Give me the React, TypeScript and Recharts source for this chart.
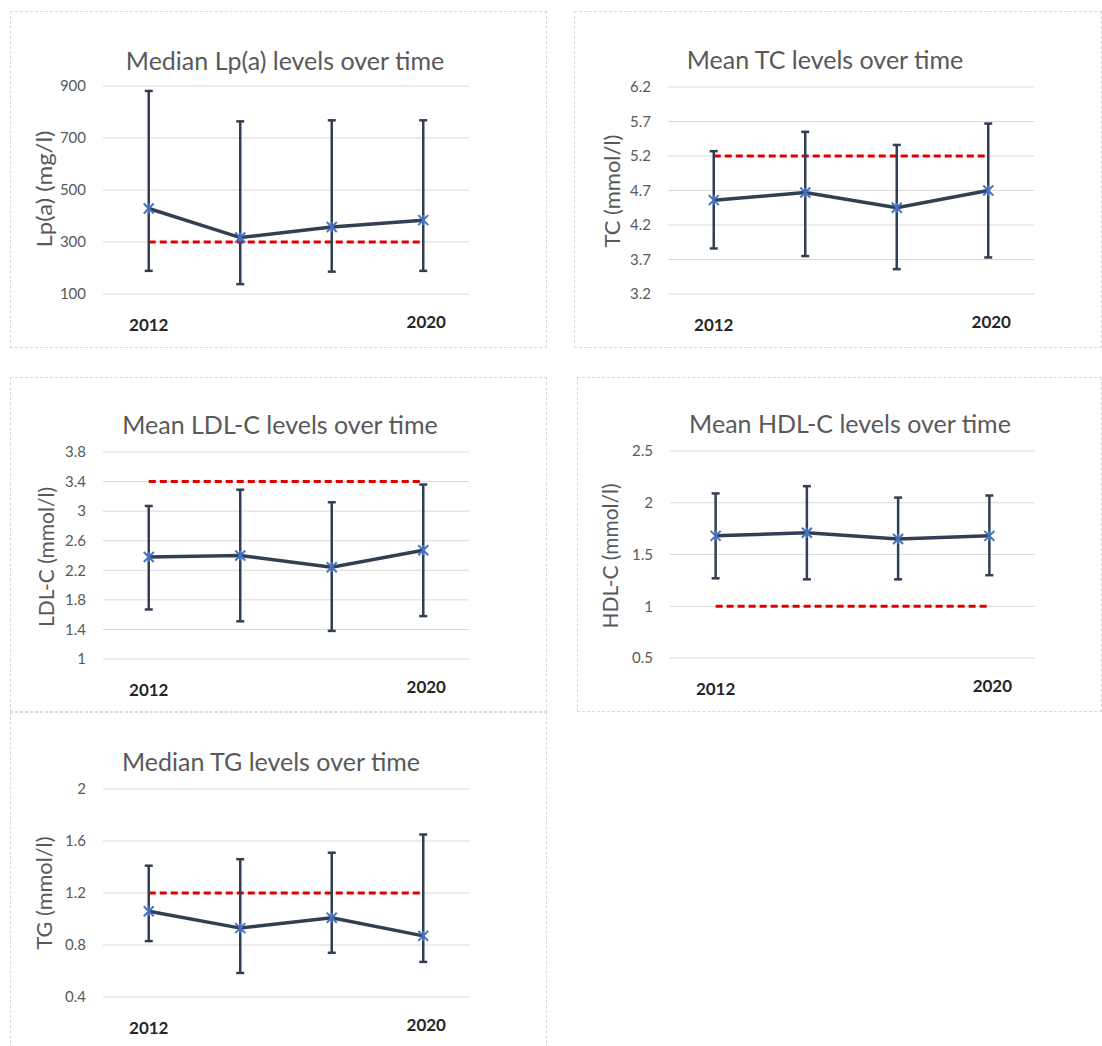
import React from "react";
import { LineChart, Line, XAxis, YAxis, CartesianGrid, ErrorBar } from "recharts";

// four time points, only first and last are labelled on the axis
const periods = ["p1", "p2", "p3", "p4"];
const xTickLabels = ["2012", "", "", "2020"];

const lpaValues = [429, 317, 358, 384];
const lpaLow = [189, 138, 186, 189];
const lpaHigh = [881, 764, 768, 768];
const lpaThreshold = 300;
const lpaTicks = [100, 300, 500, 700, 900];

const tcValues = [4.56, 4.67, 4.45, 4.7];
const tcLow = [3.86, 3.75, 3.56, 3.73];
const tcHigh = [5.27, 5.55, 5.36, 5.67];
const tcThreshold = 5.2;
const tcTicks = [3.2, 3.7, 4.2, 4.7, 5.2, 5.7, 6.2];

const ldlValues = [2.38, 2.4, 2.24, 2.47];
const ldlLow = [1.67, 1.51, 1.38, 1.58];
const ldlHigh = [3.07, 3.29, 3.12, 3.36];
const ldlThreshold = 3.4;
const ldlTicks = [1, 1.4, 1.8, 2.2, 2.6, 3, 3.4, 3.8];

const hdlValues = [1.68, 1.71, 1.65, 1.68];
const hdlLow = [1.27, 1.26, 1.26, 1.3];
const hdlHigh = [2.09, 2.16, 2.05, 2.07];
const hdlThreshold = 1;
const hdlTicks = [0.5, 1, 1.5, 2, 2.5];

const tgValues = [1.06, 0.93, 1.01, 0.87];
const tgLow = [0.83, 0.585, 0.74, 0.67];
const tgHigh = [1.41, 1.46, 1.51, 1.65];
const tgThreshold = 1.2;
const tgTicks = [0.4, 0.8, 1.2, 1.6, 2];

const FONT = "Lato, 'Open Sans', 'DejaVu Sans', sans-serif";
const LINE_COLOR = "#323F52";
const X_AXIS_H = 44;

const StarDot = (props: any) => {
  const { cx, cy } = props;
  if (cx == null || cy == null) return null;
  const r = 5;
  return (
    <g stroke="#4472C4" strokeWidth={2}>
      <line x1={cx - r} y1={cy - r} x2={cx + r} y2={cy + r} />
      <line x1={cx - r} y1={cy + r} x2={cx + r} y2={cy - r} />
      <line x1={cx} y1={cy - r} x2={cx} y2={cy + r} />
    </g>
  );
};

const YearTick = (props: any) => {
  const { x, y, index } = props;
  const label = xTickLabels[index];
  if (!label) return null;
  const last = index === xTickLabels.length - 1;
  return (
    <text
      x={x + (last ? 3 : 0)}
      y={y}
      dy={last ? 34 : 37}
      textAnchor="middle"
      fontSize={17}
      fontWeight="bold"
      fill="#262626"
    >
      {label}
    </text>
  );
};

type Box = { left: number; top: number; width: number; height: number };

function Panel({
  box,
  plot,
  labelX,
  labelY,
  labelLen,
  title,
  titleX,
  titleY,
  yLabel,
  values,
  low,
  high,
  threshold,
  ticks,
}: {
  box: Box;
  plot: Box;
  labelX: number;
  labelY: number;
  labelLen: number;
  title: string;
  titleX: number;
  titleY: number;
  yLabel: string;
  values: number[];
  low: number[];
  high: number[];
  threshold: number;
  ticks: number[];
}) {
  const data = periods.map((p, i) => ({
    period: p,
    value: values[i],
    err: [values[i] - low[i], high[i] - values[i]],
    ref: threshold,
  }));
  const ox = box.left + 1;
  const oy = box.top + 1;
  const w = box.width - 2;
  const h = box.height - 2;
  const band = plot.width / periods.length;
  const margin = {
    left: labelX - ox,
    top: plot.top - oy,
    right: w - (plot.left - ox) - plot.width,
    bottom: h - (plot.top - oy) - plot.height - X_AXIS_H,
  };

  return (
    <div
      style={{
        position: "absolute",
        left: box.left,
        top: box.top,
        width: box.width,
        height: box.height,
        boxSizing: "border-box",
        border: "1px dashed #D9D9D9",
      }}
    >
      <LineChart width={w} height={h} data={data} margin={margin}>
        <CartesianGrid vertical={false} stroke="#D9D9D9" strokeWidth={1} />
        <XAxis
          dataKey="period"
          type="category"
          scale="point"
          padding={{ left: band / 2, right: band / 2 }}
          axisLine={false}
          tickLine={false}
          tickSize={0}
          tickMargin={0}
          height={X_AXIS_H}
          interval={0}
          tick={<YearTick />}
        />
        <YAxis
          type="number"
          domain={[ticks[0], ticks[ticks.length - 1]]}
          ticks={ticks}
          interval={0}
          width={plot.left - labelX}
          axisLine={false}
          tickLine={false}
          tickSize={0}
          tickMargin={17}
          tick={{ fontSize: 15, fill: "#595959" }}
        />
        <Line
          dataKey="ref"
          stroke="#E00000"
          strokeWidth={3}
          strokeDasharray="7 4"
          dot={false}
          isAnimationActive={false}
        />
        <Line
          dataKey="value"
          stroke={LINE_COLOR}
          strokeWidth={3.5}
          dot={<StarDot />}
          isAnimationActive={false}
        >
          <ErrorBar
            dataKey="err"
            direction="y"
            width={4}
            stroke={LINE_COLOR}
            strokeWidth={2.5}
            isAnimationActive={false}
          />
        </Line>
      </LineChart>
      <svg
        width={w}
        height={h}
        style={{ position: "absolute", left: 0, top: 0, pointerEvents: "none" }}
      >
        <text
          x={titleX - ox}
          y={titleY - oy}
          textAnchor="middle"
          fontSize={25}
          fill="#595959"
        >
          {title}
        </text>
        <text
          transform={`translate(${labelX - ox}, ${labelY - oy}) rotate(-90)`}
          textAnchor="middle"
          dominantBaseline="central"
          fontSize={21}
          fill="#595959"
          textLength={labelLen}
          lengthAdjust="spacingAndGlyphs"
        >
          {yLabel}
        </text>
      </svg>
    </div>
  );
}

export default function App() {
  return (
    <div
      style={{
        position: "absolute",
        left: 0,
        top: 0,
        width: 1102,
        height: 1046,
        background: "#fff",
        fontFamily: FONT,
        overflow: "hidden",
      }}
    >
      <Panel
        box={{ left: 10, top: 11, width: 537, height: 337 }}
        plot={{ left: 103, top: 86, width: 366, height: 208 }}
        labelX={43}
        labelY={189}
        labelLen={117}
        title="Median Lp(a) levels over time"
        titleX={285}
        titleY={70}
        yLabel="Lp(a) (mg/l)"
        values={lpaValues}
        low={lpaLow}
        high={lpaHigh}
        threshold={lpaThreshold}
        ticks={lpaTicks}
      />
      <Panel
        box={{ left: 574, top: 11, width: 528, height: 337 }}
        plot={{ left: 668, top: 87, width: 366, height: 207 }}
        labelX={611}
        labelY={191}
        labelLen={113}
        title="Mean TC levels over time"
        titleX={825}
        titleY={69}
        yLabel="TC (mmol/l)"
        values={tcValues}
        low={tcLow}
        high={tcHigh}
        threshold={tcThreshold}
        ticks={tcTicks}
      />
      <Panel
        box={{ left: 10, top: 377, width: 537, height: 335 }}
        plot={{ left: 103, top: 452, width: 366, height: 207 }}
        labelX={45}
        labelY={557}
        labelLen={140}
        title="Mean LDL-C levels over time"
        titleX={280}
        titleY={434}
        yLabel="LDL-C (mmol/l)"
        values={ldlValues}
        low={ldlLow}
        high={ldlHigh}
        threshold={ldlThreshold}
        ticks={ldlTicks}
      />
      <Panel
        box={{ left: 577, top: 377, width: 525, height: 335 }}
        plot={{ left: 670, top: 451, width: 365, height: 207 }}
        labelX={609}
        labelY={556}
        labelLen={145}
        title="Mean HDL-C levels over time"
        titleX={850}
        titleY={433}
        yLabel="HDL-C (mmol/l)"
        values={hdlValues}
        low={hdlLow}
        high={hdlHigh}
        threshold={hdlThreshold}
        ticks={hdlTicks}
      />
      <Panel
        box={{ left: 10, top: 712, width: 537, height: 336 }}
        plot={{ left: 103, top: 789, width: 366, height: 208 }}
        labelX={43}
        labelY={893}
        labelLen={113}
        title="Median TG levels over time"
        titleX={271}
        titleY={771}
        yLabel="TG (mmol/l)"
        values={tgValues}
        low={tgLow}
        high={tgHigh}
        threshold={tgThreshold}
        ticks={tgTicks}
      />
    </div>
  );
}
